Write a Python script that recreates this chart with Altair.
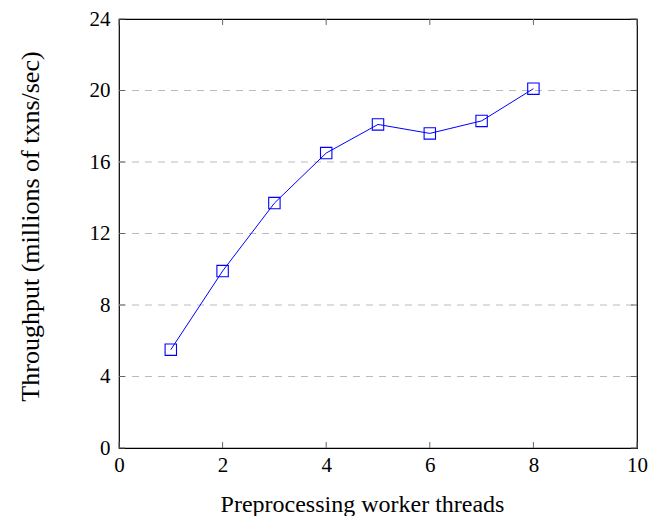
import altair as alt
import pandas as pd

threads = [1, 2, 3, 4, 5, 6, 7, 8]
throughput = [5.5, 9.9, 13.7, 16.5, 18.1, 17.6, 18.3, 20.1]
x_ticks = [0, 2, 4, 6, 8, 10]
y_ticks = [0, 4, 8, 12, 16, 20, 24]
y_grid = [4, 8, 12, 16, 20]

W, H = 518, 429
FONT = "Liberation Serif"
TL = 6

df = pd.DataFrame({"x": threads, "y": throughput})
xt = pd.DataFrame({"x": x_ticks})
yt = pd.DataFrame({"y": y_ticks})
yg = pd.DataFrame({"y": y_grid})

xs = alt.Scale(domain=[0, 10], nice=False, zero=False)
ys = alt.Scale(domain=[0, 24], nice=False, zero=False)

base = alt.Chart(df).encode(
    x=alt.X("x:Q", scale=xs,
            axis=alt.Axis(values=x_ticks, title="Preprocessing worker threads",
                          grid=False, ticks=False, domain=False, labelFlush=False,
                          labelPadding=6, titlePadding=17, titleX=243,
                          titleAlign="center", format="d")),
    y=alt.Y("y:Q", scale=ys,
            axis=alt.Axis(values=y_ticks, title="Throughput (millions of txns/sec)",
                          grid=False, ticks=False, domain=False, labelFlush=False,
                          labelPadding=9, titlePadding=46, titleY=207,
                          titleFontSize=26, format="d")),
)

line = base.mark_line(color="#0000ff", strokeWidth=1)
pts = base.mark_point(shape="square", size=130, filled=False,
                      color="#0000ff", strokeWidth=1.1, opacity=1)

grid = alt.Chart(yg).mark_rule(color="#bbbbbb", strokeWidth=1, strokeDash=[7, 6]).encode(
    y=alt.Y("y:Q", scale=ys), x=alt.value(0), x2=alt.value(W))

tick_color = "#666666"
bx = alt.Chart(xt).mark_rule(color=tick_color, strokeWidth=1).encode(
    x=alt.X("x:Q", scale=xs), y=alt.value(H), y2=alt.value(H - TL))
tx = alt.Chart(xt).mark_rule(color=tick_color, strokeWidth=1).encode(
    x=alt.X("x:Q", scale=xs), y=alt.value(0), y2=alt.value(TL))
ly = alt.Chart(yt).mark_rule(color=tick_color, strokeWidth=1).encode(
    y=alt.Y("y:Q", scale=ys), x=alt.value(0), x2=alt.value(TL))
ry = alt.Chart(yt).mark_rule(color=tick_color, strokeWidth=1).encode(
    y=alt.Y("y:Q", scale=ys), x=alt.value(W), x2=alt.value(W - TL))

chart = alt.layer(grid, bx, tx, ly, ry, line, pts).properties(
    width=W, height=H,
    autosize=alt.AutoSizeParams(type="none"),
    padding={"left": 111, "top": 11, "right": 20, "bottom": 68},
).configure_view(stroke="black", strokeWidth=1.2).configure_axis(
    labelFont=FONT, titleFont=FONT, labelFontSize=21, titleFontSize=24,
    labelColor="black", titleColor="black", titleFontWeight="normal",
)

chart.save("out.html", embed_options={"renderer": "svg", "actions": False})
